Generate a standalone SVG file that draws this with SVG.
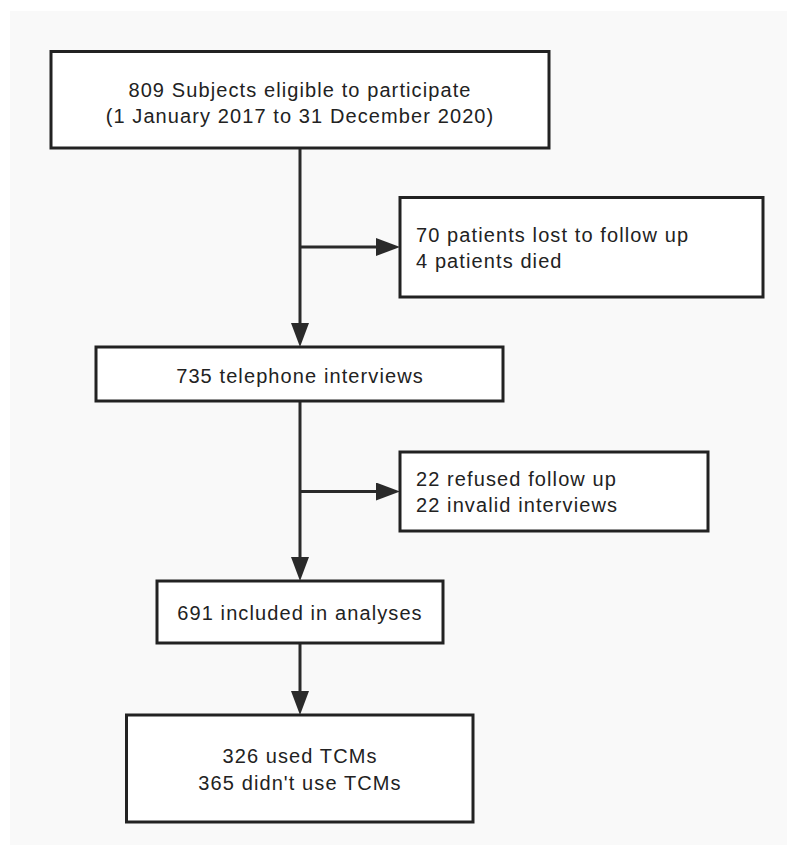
<svg xmlns="http://www.w3.org/2000/svg" width="789" height="854" viewBox="0 0 789 854">
  <style>
    .box { fill: #ffffff; stroke: #222222; stroke-width: 3; }
    .lbl { font-family: "Liberation Sans", Arial, sans-serif; font-size: 20px; fill: #222222; letter-spacing: 1.1px; }
    .mid { text-anchor: middle; }
    .conn { stroke: #2a2a2a; stroke-width: 3; fill: none; }
  </style>
  <defs>
    <marker id="arrow" markerUnits="userSpaceOnUse" markerWidth="24" markerHeight="18" refX="0" refY="9" orient="auto">
      <path d="M0,0 L24,9 L0,18 Z" fill="#2a2a2a"/>
    </marker>
  </defs>
  <rect x="0" y="0" width="789" height="854" fill="#ffffff"/>
  <rect x="10" y="11" width="777" height="834" fill="#f9f9f9"/>

  <g id="connectors">
    <line class="conn" x1="300" y1="148" x2="300" y2="323" marker-end="url(#arrow)"/>
    <line class="conn" x1="300" y1="247" x2="376" y2="247" marker-end="url(#arrow)"/>
    <line class="conn" x1="300" y1="401" x2="300" y2="557" marker-end="url(#arrow)"/>
    <line class="conn" x1="300" y1="491.5" x2="376" y2="491.5" marker-end="url(#arrow)"/>
    <line class="conn" x1="300" y1="643" x2="300" y2="691" marker-end="url(#arrow)"/>
  </g>

  <g id="node-eligible">
    <rect class="box" x="51" y="51.5" width="498" height="96.5"/>
    <text class="lbl mid" x="300" y="97">809 Subjects eligible to participate</text>
    <text class="lbl mid" x="300" y="123">(1 January 2017 to 31 December 2020)</text>
  </g>

  <g id="node-lost">
    <rect class="box" x="400" y="197.5" width="363" height="99.5"/>
    <text class="lbl" x="416" y="242">70 patients lost to follow up</text>
    <text class="lbl" x="416" y="268">4 patients died</text>
  </g>

  <g id="node-telephone">
    <rect class="box" x="96" y="347" width="407" height="54"/>
    <text class="lbl mid" x="300" y="383">735 telephone interviews</text>
  </g>

  <g id="node-refused">
    <rect class="box" x="400" y="452" width="308" height="79"/>
    <text class="lbl" x="416" y="486">22 refused follow up</text>
    <text class="lbl" x="416" y="512">22 invalid interviews</text>
  </g>

  <g id="node-included">
    <rect class="box" x="157" y="581" width="286" height="62"/>
    <text class="lbl mid" x="300" y="620">691 included in analyses</text>
  </g>

  <g id="node-tcm">
    <rect class="box" x="126.5" y="715" width="346.5" height="107"/>
    <text class="lbl mid" x="300" y="763">326 used TCMs</text>
    <text class="lbl mid" x="300" y="790">365 didn't use TCMs</text>
  </g>
</svg>
